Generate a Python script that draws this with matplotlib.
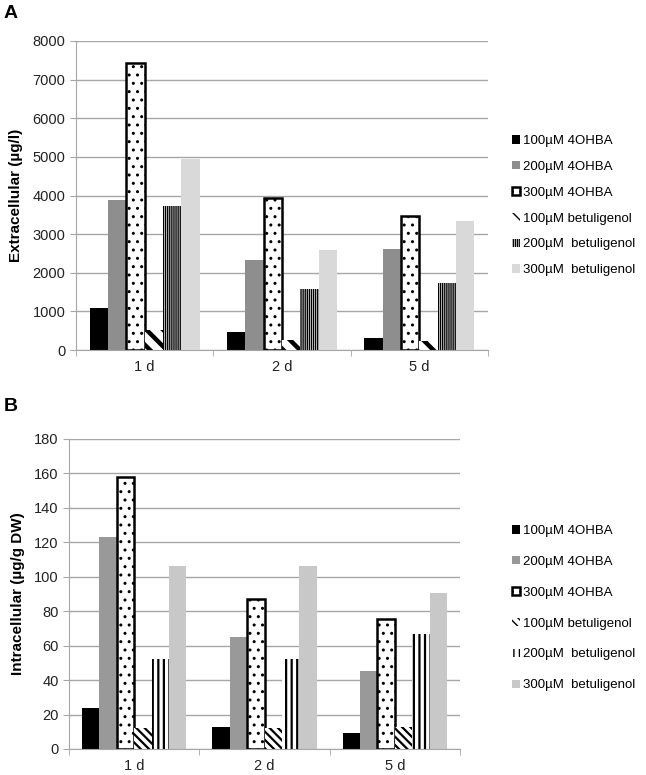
import numpy as np
import matplotlib
matplotlib.use('Agg')
from matplotlib import pyplot as plt
from matplotlib.patches import Patch

plt.rcParams['font.family'] = ['Liberation Sans', 'DejaVu Sans']

days = ['1 d', '2 d', '5 d']
series = ['100µM 4OHBA', '200µM 4OHBA', '300µM 4OHBA',
          '100µM betuligenol', '200µM  betuligenol', '300µM  betuligenol']

extra_100_ohba = [1100, 460, 300]
extra_200_ohba = [3880, 2320, 2620]
extra_300_ohba = [7430, 3930, 3460]
extra_100_bet = [520, 250, 230]
extra_200_bet = [3720, 1590, 1730]
extra_300_bet = [4950, 2590, 3340]

intra_100_ohba = [24, 13, 9.5]
intra_200_ohba = [123, 65, 45.5]
intra_300_ohba = [158, 87, 75.5]
intra_100_bet = [12, 12, 12.5]
intra_200_bet = [52, 52, 66.5]
intra_300_bet = [106, 106, 90.5]


def bar_styles(grey, light, vdense, ddense):
	return [
		dict(facecolor='black', edgecolor='black', linewidth=0),
		dict(facecolor=grey, edgecolor=grey, linewidth=0),
		dict(facecolor='white', edgecolor='black', linewidth=1.8, hatch='..'),
		dict(facecolor='white', edgecolor='black', linewidth=0, hatch=ddense),
		dict(facecolor='white', edgecolor='black', linewidth=0, hatch=vdense),
		dict(facecolor=light, edgecolor=light, linewidth=0),
	]


def draw(ax, data, styles, hatch_lws, ymax, ystep, ylabel):
	x = np.arange(len(days))
	w = 0.8 / len(data)
	for i, (vals, st) in enumerate(zip(data, styles)):
		plt.rcParams['hatch.linewidth'] = hatch_lws[i]
		ax.bar(x - 0.4 + w * (i + 0.5), vals, w, **st)
	ax.set_xlim(-0.5, len(days) - 0.5)
	ax.set_ylim(0, ymax)
	ax.set_yticks(np.arange(0, ymax + 1, ystep))
	ax.yaxis.grid(True, color='#a6a6a6', lw=1)
	ax.set_axisbelow(True)
	for s in ['top', 'right']:
		ax.spines[s].set_visible(False)
	ax.spines['left'].set_color('#a6a6a6')
	ax.spines['bottom'].set_color('#a6a6a6')
	ax.set_xticks(x)
	ax.set_xticklabels(days, fontsize=10.5, color='#222222')
	ax.tick_params(axis='x', length=0, pad=7)
	ax.set_xticks(np.arange(-0.5, len(days)), minor=True)
	ax.tick_params(axis='x', which='minor', length=4, color='#a6a6a6')
	ax.tick_params(axis='y', length=4, color='#a6a6a6', labelsize=10.5, labelcolor='#222222')
	ax.set_ylabel(ylabel, fontsize=11, fontweight='bold')


fig = plt.figure(figsize=(6.46, 7.75), dpi=100)

axA = fig.add_axes([76 / 646, 1 - 350 / 775, (488 - 76) / 646, (350 - 41) / 775])
stylesA = bar_styles('#8e8e8e', '#d9d9d9', '||||||||', '\\\\')
dataA = [extra_100_ohba, extra_200_ohba, extra_300_ohba, extra_100_bet, extra_200_bet, extra_300_bet]
draw(axA, dataA, stylesA, [1, 1, 1, 3.2, 1, 1], 8000, 1000, 'Extracellular (µg/l)')
axA.yaxis.set_label_coords(-0.128, 0.5)

axB = fig.add_axes([69 / 646, 1 - 749 / 775, (460 - 69) / 646, (749 - 439) / 775])
stylesB = bar_styles('#999999', '#c8c8c8', '|||', '\\\\\\\\')
dataB = [intra_100_ohba, intra_200_ohba, intra_300_ohba, intra_100_bet, intra_200_bet, intra_300_bet]
draw(axB, dataB, stylesB, [1, 1, 1, 1.6, 1.6, 1], 180, 20, 'Intracellular (µg/g DW)')
axB.yaxis.set_label_coords(-0.112, 0.5)

plt.rcParams['hatch.linewidth'] = 1
handlesA = [Patch(**st) for st in stylesA]
handlesB = [Patch(**st) for st in stylesB]
fig.legend(handlesA, series, loc='upper left', bbox_to_anchor=(512 / 646, 1 - 135 / 775),
           frameon=False, fontsize=9.5, handlelength=0.6, handleheight=0.6, handletextpad=0.2,
           labelspacing=1.05, borderpad=0, borderaxespad=0)
fig.legend(handlesB, series, loc='upper left', bbox_to_anchor=(512 / 646, 1 - 525 / 775),
           frameon=False, fontsize=9.5, handlelength=0.6, handleheight=0.6, handletextpad=0.2,
           labelspacing=1.43, borderpad=0, borderaxespad=0)

fig.text(4 / 646, 1 - 5 / 775, 'A', fontsize=14, fontweight='bold', va='top', ha='left')
fig.text(4 / 646, 1 - 398 / 775, 'B', fontsize=14, fontweight='bold', va='top', ha='left')

fig.savefig('out.png', dpi=100)
